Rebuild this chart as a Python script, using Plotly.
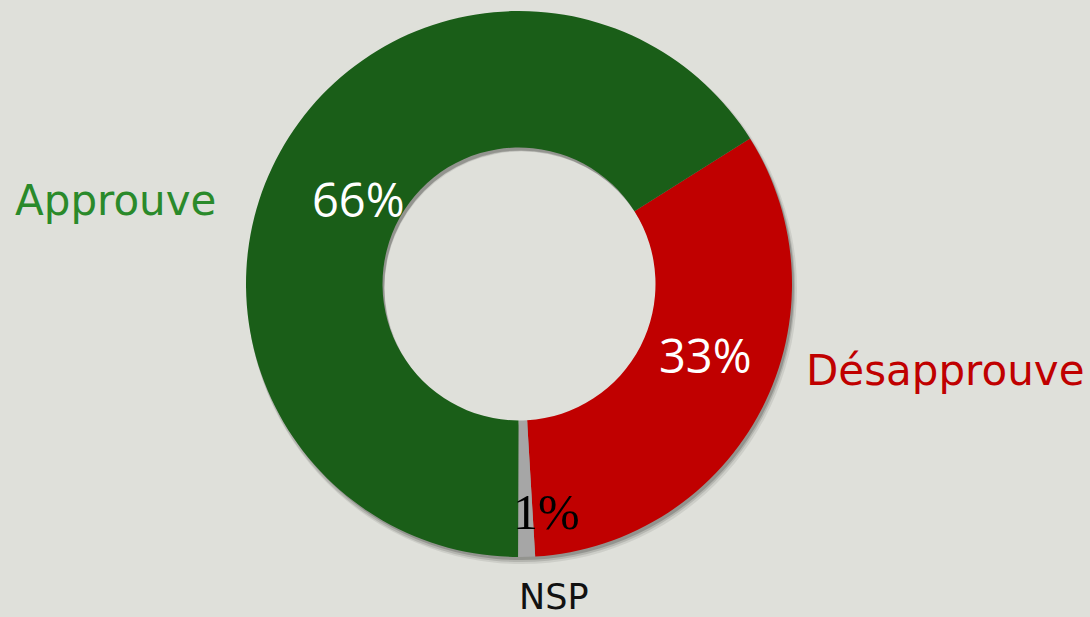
import plotly.graph_objects as go

categories = ["Désapprouve", "NSP", "Approuve"]
values = [33, 1, 66]
slice_colors = ["#c00000", "#a6a6a6", "#1a5e18"]
label_colors = ["#c00000", "#111111", "#2a8a2a"]

W, H = 1090, 617
cx, cy, R = 519, 284, 273

def dom(dx=0, dy=0, dr=0):
    x0 = (cx + dx - R - dr) / W
    x1 = (cx + dx + R + dr) / W
    y1 = 1 - (cy + dy - R - dr) / H
    y0 = 1 - (cy + dy + R + dr) / H
    return dict(x=[x0, x1], y=[y0, y1])

fig = go.Figure()

# soft drop shadow (layered rings)
for dx, dy, dr, a in [(3, 5, 2, 0.08), (2, 4, 1, 0.12), (2, 3, 0, 0.18)]:
    fig.add_trace(go.Pie(
        values=[sum(values)], hole=0.5, sort=False, textinfo="none",
        marker=dict(colors=[f"rgba(0,0,0,{a})"], line=dict(width=0)),
        domain=dom(dx, dy, dr), hoverinfo="skip", showlegend=False,
    ))

fig.add_trace(go.Pie(
    labels=categories, values=values, hole=0.5, sort=False,
    direction="clockwise", rotation=57.8,
    marker=dict(colors=slice_colors, line=dict(width=0)),
    textinfo="none", domain=dom(), showlegend=False,
))

pct_pos = {"Approuve": (358, 199), "Désapprouve": (705, 355), "NSP": (547, 512)}
name_pos = {"Approuve": (115, 200), "Désapprouve": (945, 370), "NSP": (554, 597)}
name_size = {"Approuve": 42, "Désapprouve": 42, "NSP": 35}

anns = []
for cat, v, lc in zip(categories, values, label_colors):
    px, py = pct_pos[cat]
    if cat == "NSP":
        font = dict(family="Liberation Serif", size=50, color="#000000")
    else:
        font = dict(family="Open Sans", size=47, color="#ffffff")
    anns.append(dict(x=px / W, y=1 - py / H, xref="paper", yref="paper",
                     text=f"{v}%", showarrow=False, font=font,
                     xanchor="center", yanchor="middle"))
    nx, ny = name_pos[cat]
    anns.append(dict(x=nx / W, y=1 - ny / H, xref="paper", yref="paper",
                     text=cat, showarrow=False,
                     font=dict(family="DejaVu Sans", size=name_size[cat], color=lc),
                     xanchor="center", yanchor="middle"))

fig.update_layout(
    width=W, height=H,
    margin=dict(l=0, r=0, t=0, b=0),
    paper_bgcolor="#dfe0da", plot_bgcolor="#dfe0da",
    annotations=anns, showlegend=False,
)

fig.write_html("out.html", config={"displayModeBar": False},
               post_script="document.body.style.margin='0';document.body.style.overflow='hidden';")
